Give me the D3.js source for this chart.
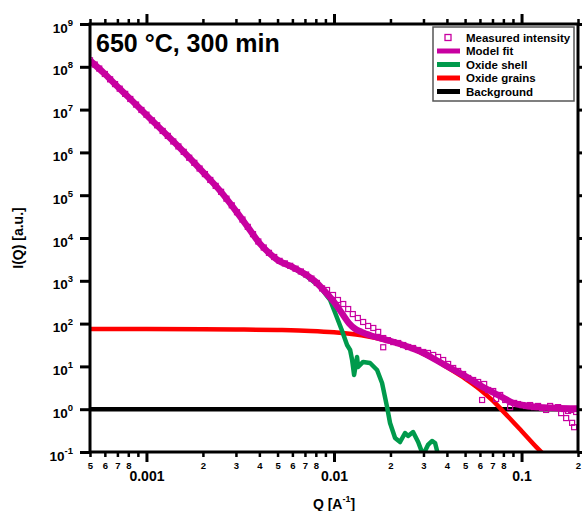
<!DOCTYPE html>
<html>
<head>
<meta charset="utf-8">
<script src="https://cdn.jsdelivr.net/npm/d3@7"></script>
<style>
  body { margin: 0; background: #fff; }
  svg { display: block; font-family: "Liberation Sans", Arial, sans-serif; }
</style>
</head>
<body>
<div id="chart"></div>
<script>
// ---- data ----
const titleText = "650 °C, 300 min";
const seriesNames = ["Measured intensity", "Model fit", "Oxide shell", "Oxide grains", "Background"];

// measured intensity (open squares)
const measuredQ = [0.0005, 0.00053, 0.00056, 0.0006, 0.00064, 0.00068, 0.00072, 0.00077, 0.00082, 0.00088,
  0.00094, 0.001, 0.00107, 0.00114, 0.00122, 0.0013, 0.00139, 0.00148, 0.00158, 0.00169,
  0.0018, 0.00192, 0.00205, 0.00219, 0.00234, 0.0025, 0.00267, 0.00285, 0.00304, 0.00325,
  0.00347, 0.0037, 0.00395, 0.00422, 0.0045, 0.0048, 0.00513, 0.00547, 0.00584, 0.00624,
  0.00666, 0.0071, 0.00758, 0.0081, 0.00864, 0.00918, 0.00988, 0.0105, 0.0112, 0.0119,
  0.0126, 0.0134, 0.0143, 0.0152, 0.0162, 0.0172, 0.0183, 0.0183, 0.0194, 0.0207,
  0.022, 0.0234, 0.0248, 0.0264, 0.0281, 0.0299, 0.0317, 0.0338, 0.0359, 0.0382,
  0.0406, 0.0432, 0.0459, 0.0488, 0.0519, 0.0552, 0.0587, 0.0616, 0.0632, 0.0664,
  0.0706, 0.0732, 0.0769, 0.0818, 0.0869, 0.0913, 0.0959, 0.1007, 0.1058, 0.1111,
  0.1167, 0.1225, 0.1287, 0.1352, 0.142, 0.1492, 0.1567, 0.1626, 0.1687, 0.1729,
  0.1771, 0.1838, 0.186, 0.1907, 0.1954, 0.2];
const measuredI = [1.42e8, 1.13e8, 9.1e7, 6.8e7, 5.1e7, 3.95e7, 3.08e7, 2.33e7, 1.77e7, 1.31e7,
  9.8e6, 7.6e6, 5.6e6, 4.3e6, 3.17e6, 2.43e6, 1.8e6, 1.38e6, 1.03e6, 7.5e5,
  5.7e5, 4.2e5, 3.12e5, 2.27e5, 1.65e5, 1.2e5, 8.3e4, 5.8e4, 4.0e4, 2.7e4,
  1.82e4, 1.23e4, 8.3e3, 6.0e3, 4.5e3, 3.6e3, 2.92e3, 2.55e3, 2.24e3, 1.92e3,
  1.65e3, 1.4e3, 1.13e3, 890, 665, 610, 466, 356, 287, 219,
  167, 135, 109, 88, 79, 64, 46, 28, 41, 37,
  35.2, 31.6, 28.4, 26.9, 24.2, 21.7, 20.6, 18.5, 16.6, 14.1,
  11.4, 9.18, 7.82, 6.64, 5.36, 4.81, 4.32, 1.64, 3.88, 2.81,
  2.66, 1.73, 2.15, 1.64, 1.12, 1.4, 1.32, 1.25, 1.19, 1.25,
  1.12, 1.19, 1.07, 0.96, 1.19, 1.07, 1.12, 0.81, 1.01, 0.62,
  0.91, 0.96, 0.48, 0.38, 0.86, 1.01];

// model fit
const fitQ = [0.0005, 0.0006, 0.0007, 0.0008, 0.001, 0.0015, 0.002, 0.0025, 0.003, 0.0035,
  0.004, 0.0045, 0.005, 0.006, 0.007, 0.008, 0.009, 0.01, 0.011, 0.012,
  0.013, 0.014, 0.016, 0.02, 0.025, 0.03, 0.035, 0.04, 0.05, 0.06,
  0.07, 0.08, 0.09, 0.1, 0.12, 0.15, 0.2];
const fitI = [1.4e8, 6.79e7, 3.47e7, 1.97e7, 7.48e6, 1.3e6, 3.48e5, 1.19e5, 4.28e4, 1.71e4,
  7.64e3, 4.47e3, 3.06e3, 2.1e3, 1.44e3, 938, 547, 320, 177, 103,
  74.8, 63.7, 51.3, 39.2, 28.4, 20.6, 14.1, 10.2, 5.97, 3.6,
  2.5, 1.83, 1.4, 1.25, 1.12, 1.07, 1.04];

// oxide shell
const shellQ = [0.0005, 0.0006, 0.0007, 0.0008, 0.001, 0.0015, 0.002, 0.0025, 0.003, 0.0035,
  0.004, 0.0045, 0.005, 0.006, 0.007, 0.008, 0.00843, 0.00953, 0.0101, 0.011,
  0.01174, 0.01219, 0.01249, 0.0128, 0.01327, 0.01344, 0.01429, 0.01557, 0.01697, 0.01804,
  0.01919, 0.0199, 0.02117, 0.0225, 0.02393, 0.02483, 0.0264, 0.0281, 0.02985, 0.0317,
  0.0333, 0.0346, 0.0359, 0.0391];
const shellI = [1.39e8, 6.75e7, 3.45e7, 1.96e7, 7.4e6, 1.29e6, 3.44e5, 1.18e5, 4.2e4, 1.68e4,
  7.5e3, 4.38e3, 2.98e3, 2.03e3, 1.37e3, 870, 716, 356, 187, 70.8,
  31.6, 24.2, 14.1, 6.3, 16.6, 9.68, 12.7, 12.0, 8.24, 4.09,
  1.12, 0.476, 0.212, 0.171, 0.278, 0.237, 0.293, 0.171, 0.085, 0.146,
  0.181, 0.162, 0.085, 0.01];

// oxide grains
const grainsQ = [0.0005, 0.001, 0.002, 0.003, 0.005, 0.0075, 0.01, 0.014, 0.02, 0.025,
  0.03, 0.035, 0.04, 0.05, 0.06, 0.07, 0.08, 0.1, 0.12, 0.15];
const grainsI = [75, 74.8, 74, 73, 71, 67.5, 62.5, 53, 38, 28,
  19.5, 13.8, 9.6, 5.2, 2.9, 1.6, 0.88, 0.31, 0.13, 0.05];

// background
const backgroundQ = [0.0005, 0.2];
const backgroundI = [1, 1];

// ticks
const yTickExponents = [-1, 0, 1, 2, 3, 4, 5, 6, 7, 8, 9];
const xMajorTicks = [0.001, 0.01, 0.1];
const xMajorLabels = ["0.001", "0.01", "0.1"];
const xMinorTicks = [0.0005, 0.0006, 0.0007, 0.0008, 0.0009,
  0.002, 0.003, 0.004, 0.005, 0.006, 0.007, 0.008, 0.009,
  0.02, 0.03, 0.04, 0.05, 0.06, 0.07, 0.08, 0.09, 0.2];
const xMinorLabels = ["5", "6", "7", "8", "",
  "2", "3", "4", "5", "6", "7", "8", "",
  "2", "3", "4", "5", "6", "7", "8", "", "2"];

// ---- colours ----
const colMagenta = "#c800a0";
const colGreen = "#009a4c";
const colRed = "#ff0000";
const colBlack = "#000000";

const W = 582, H = 511;
const plot = { left: 90, right: 578, top: 24, bottom: 452 };

const x = d3.scaleLog().domain([5e-4, 0.2]).range([plot.left, plot.right]);
const y = d3.scaleLog().domain([0.1, 1e9]).range([plot.bottom, plot.top]);

const svg = d3.select("#chart").append("svg")
  .attr("width", W).attr("height", H);

svg.append("defs").append("clipPath").attr("id", "clip")
  .append("rect")
  .attr("x", plot.left).attr("y", plot.top)
  .attr("width", plot.right - plot.left).attr("height", plot.bottom - plot.top);

const pairs = (qs, is) => qs.map((q, i) => [q, is[i]]);

const line = d3.line().x(d => x(d[0])).y(d => y(d[1]));
const smooth = d3.line().x(d => x(d[0])).y(d => y(d[1])).curve(d3.curveMonotoneX);

const g = svg.append("g").attr("clip-path", "url(#clip)");

// background
g.append("path").datum(pairs(backgroundQ, backgroundI))
  .attr("d", line).attr("fill", "none").attr("stroke", colBlack).attr("stroke-width", 4.5);

// grains
g.append("path").datum(pairs(grainsQ, grainsI))
  .attr("d", smooth).attr("fill", "none").attr("stroke", colRed).attr("stroke-width", 4.5);

// shell
g.append("path").datum(pairs(shellQ, shellI))
  .attr("d", line).attr("fill", "none").attr("stroke", colGreen).attr("stroke-width", 4.5)
  .attr("stroke-linejoin", "round");

// fit
g.append("path").datum(pairs(fitQ, fitI))
  .attr("d", smooth).attr("fill", "none").attr("stroke", colMagenta).attr("stroke-width", 6.5);

// measured
const sq = 5;
g.selectAll("rect.pt").data(pairs(measuredQ, measuredI)).enter()
  .append("rect").attr("class", "pt")
  .attr("x", d => x(d[0]) - sq / 2).attr("y", d => y(d[1]) - sq / 2)
  .attr("width", sq).attr("height", sq)
  .attr("fill", "none").attr("stroke", colMagenta).attr("stroke-width", 1.2);

// ---- axes ----
const styleAxis = (sel, w) => {
  sel.select(".domain").remove();
  sel.selectAll(".tick line").attr("stroke", "#000").attr("stroke-width", w);
};

// bottom minor
const bMinor = svg.append("g").attr("transform", `translate(0,${plot.bottom})`)
  .call(d3.axisBottom(x).tickValues(xMinorTicks).tickSize(5).tickPadding(5)
    .tickFormat((d, i) => xMinorLabels[i]));
styleAxis(bMinor, 2.5);
bMinor.selectAll(".tick text").attr("font-size", 9.5).attr("font-weight", "bold")
  .attr("font-family", "Liberation Sans, Arial, sans-serif").attr("fill", "#000");

// bottom major
const bMajor = svg.append("g").attr("transform", `translate(0,${plot.bottom})`)
  .call(d3.axisBottom(x).tickValues(xMajorTicks).tickSize(10).tickPadding(9.5)
    .tickFormat((d, i) => xMajorLabels[i]));
styleAxis(bMajor, 3);
bMajor.selectAll(".tick text").attr("font-size", 14).attr("font-weight", "bold")
  .attr("font-family", "Liberation Sans, Arial, sans-serif").attr("fill", "#000");

// top
const tMinor = svg.append("g").attr("transform", `translate(0,${plot.top})`)
  .call(d3.axisTop(x).tickValues(xMinorTicks).tickSize(5).tickFormat(""));
styleAxis(tMinor, 2.5);
const tMajor = svg.append("g").attr("transform", `translate(0,${plot.top})`)
  .call(d3.axisTop(x).tickValues(xMajorTicks).tickSize(10).tickFormat(""));
styleAxis(tMajor, 3);

// left
const yTicks = yTickExponents.map(e => Math.pow(10, e));
const left = svg.append("g").attr("transform", `translate(${plot.left},0)`)
  .call(d3.axisLeft(y).tickValues(yTicks).tickSize(10).tickPadding(7).tickFormat(""));
styleAxis(left, 3);
left.selectAll(".tick text").each(function (d, i) {
  const t = d3.select(this)
    .attr("y", 8).attr("dy", 0)
    .attr("font-size", 13.5).attr("font-weight", "bold")
    .attr("font-family", "Liberation Sans, Arial, sans-serif").attr("fill", "#000");
  t.append("tspan").text("10");
  t.append("tspan").attr("dy", -7).attr("font-size", 9.5).text(yTickExponents[i]);
});

// right
const right = svg.append("g").attr("transform", `translate(${plot.right},0)`)
  .call(d3.axisRight(y).tickValues(yTicks).tickSize(10).tickFormat(""));
styleAxis(right, 3);

// frame
svg.append("rect")
  .attr("x", plot.left).attr("y", plot.top)
  .attr("width", plot.right - plot.left).attr("height", plot.bottom - plot.top)
  .attr("fill", "none").attr("stroke", "#000").attr("stroke-width", 3);

// axis titles
const xt = svg.append("text")
  .attr("x", (plot.left + plot.right) / 2).attr("y", 509)
  .attr("text-anchor", "middle").attr("font-size", 14).attr("font-weight", "bold");
xt.append("tspan").text("Q [A");
xt.append("tspan").attr("dy", -7).attr("font-size", 9).text("-1");
xt.append("tspan").attr("dy", 7).text("]");

svg.append("text")
  .attr("transform", `translate(23,${(plot.top + plot.bottom) / 2}) rotate(-90)`)
  .attr("text-anchor", "middle").attr("font-size", 14).attr("font-weight", "bold")
  .text("I(Q) [a.u.]");

// title
svg.append("text")
  .attr("x", 96).attr("y", 51.5)
  .attr("font-size", 25).attr("font-weight", "bold")
  .text(titleText);

// ---- legend ----
const leg = svg.append("g");
leg.append("rect")
  .attr("x", 433).attr("y", 27).attr("width", 141).attr("height", 74)
  .attr("fill", "#fff").attr("stroke", "#555").attr("stroke-width", 1.5);

const legColors = [colMagenta, colMagenta, colGreen, colRed, colBlack];
seriesNames.forEach((name, i) => {
  const cy = 37.5 + i * 13.5;
  if (i === 0) {
    leg.append("rect").attr("x", 445).attr("y", cy - 3).attr("width", 6).attr("height", 6)
      .attr("fill", "none").attr("stroke", colMagenta).attr("stroke-width", 1.3);
  } else {
    leg.append("line").attr("x1", 437).attr("x2", 460).attr("y1", cy).attr("y2", cy)
      .attr("stroke", legColors[i]).attr("stroke-width", 5);
  }
  leg.append("text").attr("x", 466).attr("y", cy + 4)
    .attr("font-size", 11.5).attr("font-weight", "bold").text(name);
});
</script>
</body>
</html>
